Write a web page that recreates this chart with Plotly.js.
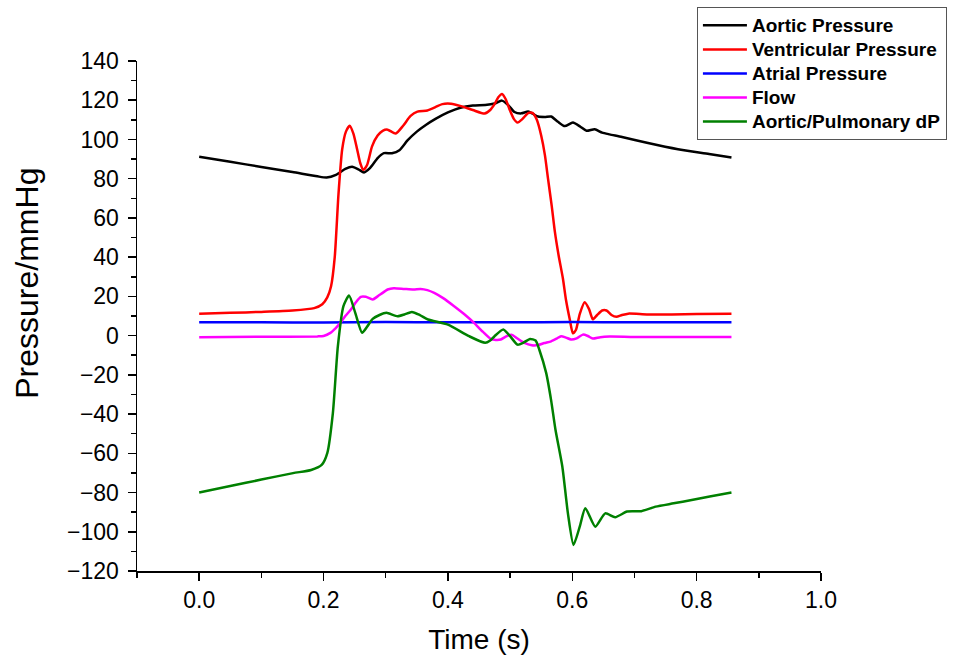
<!DOCTYPE html>
<html>
<head>
<meta charset="utf-8">
<script src="https://cdn.plot.ly/plotly-3.0.1.min.js"></script>
<style>html,body{margin:0;padding:0;background:#fff;}#chart{width:956px;height:666px;}</style>
</head>
<body>
<div id="chart"></div>
<script>
// ---- Data ----
const seriesNames = ["Aortic Pressure", "Ventricular Pressure", "Atrial Pressure", "Flow", "Aortic/Pulmonary dP"];

const tAortic = [0, 0.05, 0.10, 0.15, 0.19, 0.205, 0.22, 0.235, 0.246, 0.256, 0.265, 0.275, 0.287, 0.297, 0.31, 0.322, 0.335, 0.35, 0.365, 0.38, 0.40, 0.42, 0.44, 0.46, 0.475, 0.487, 0.497, 0.507, 0.518, 0.529, 0.537, 0.545, 0.556, 0.566, 0.577, 0.588, 0.601, 0.613, 0.623, 0.636, 0.648, 0.66, 0.68, 0.72, 0.77, 0.82, 0.856];
const pAortic = [91.2, 88.6, 86.0, 83.4, 81.2, 80.6, 82.0, 85.0, 86.1, 84.8, 83.2, 85.5, 90.5, 93.0, 93.0, 94.5, 99.5, 104, 107.5, 110.5, 113.8, 116.2, 117.3, 117.6, 118.3, 119.8, 117.5, 114, 113.3, 114.2, 113, 111.7, 111.5, 111.7, 109, 106.8, 108.6, 106.5, 104.4, 105.2, 103.5, 102.6, 101.3, 98.3, 95, 92.6, 90.8];

const tVentricular = [0, 0.05, 0.10, 0.15, 0.185, 0.198, 0.206, 0.212, 0.218, 0.224, 0.230, 0.236, 0.242, 0.248, 0.254, 0.259, 0.264, 0.270, 0.278, 0.287, 0.295, 0.303, 0.316, 0.328, 0.340, 0.351, 0.367, 0.38, 0.391, 0.405, 0.421, 0.44, 0.459, 0.468, 0.475, 0.481, 0.487, 0.493, 0.499, 0.506, 0.512, 0.52, 0.529, 0.536, 0.543, 0.55, 0.556, 0.561, 0.567, 0.572, 0.578, 0.585, 0.59, 0.596, 0.601, 0.606, 0.612, 0.62, 0.627, 0.633, 0.64, 0.648, 0.655, 0.663, 0.671, 0.68, 0.69, 0.72, 0.76, 0.80, 0.856];
const pVentricular = [11.1, 11.6, 12.1, 12.8, 14.0, 16.0, 19.5, 25, 40, 72, 95, 104, 107, 103, 95, 88, 84.5, 87, 96.5, 102, 104.4, 105, 103, 107, 112, 114.2, 114.8, 116.5, 118, 118.2, 117, 115, 113.2, 115, 118, 121.5, 123.2, 120.5, 115.4, 110.5, 108.6, 110.5, 113.4, 113.5, 110, 102, 92, 80, 66, 53, 41, 29, 18, 8.2, 1.2, 3, 11, 17, 13.5, 8.3, 10.5, 12.8, 12.8, 10.5, 9.6, 10.5, 11.2, 10.8, 10.8, 11, 11.1];

const tAtrial = [0, 0.1, 0.2, 0.3, 0.4, 0.5, 0.6, 0.7, 0.8, 0.856];
const pAtrial = [6.8, 6.8, 6.7, 6.9, 6.8, 6.8, 6.9, 6.8, 6.8, 6.8];

const tFlow = [0, 0.1, 0.19, 0.2, 0.211, 0.22, 0.227, 0.235, 0.244, 0.252, 0.26, 0.268, 0.279, 0.287, 0.295, 0.303, 0.313, 0.33, 0.345, 0.356, 0.367, 0.378, 0.393, 0.41, 0.426, 0.442, 0.456, 0.469, 0.477, 0.485, 0.493, 0.502, 0.512, 0.523, 0.535, 0.545, 0.555, 0.566, 0.575, 0.582, 0.59, 0.598, 0.607, 0.617, 0.625, 0.633, 0.645, 0.66, 0.7, 0.8, 0.856];
const pFlow = [-0.8, -0.6, -0.4, -0.2, 1.4, 4, 6.5, 10, 13.3, 17, 19.8, 19.8, 18.4, 20, 21.8, 23.5, 24.2, 23.8, 23.5, 23.8, 23.2, 21.8, 19, 15, 11, 6.5, 2, -1.7, -2.2, -2, -0.5, 0.5, -1.5, -3.7, -4.9, -4.8, -3.8, -2.9, -1.5, -0.3, -1, -2, -1.4, 0.5, -0.2, -1.5, -0.8, -0.5, -0.7, -0.7, -0.7];

const tDP = [0, 0.05, 0.10, 0.151, 0.18, 0.197, 0.206, 0.215, 0.223, 0.232, 0.241, 0.251, 0.262, 0.27, 0.279, 0.29, 0.301, 0.319, 0.33, 0.342, 0.355, 0.368, 0.4, 0.434, 0.46, 0.468, 0.475, 0.489, 0.5, 0.512, 0.522, 0.532, 0.541, 0.547, 0.558, 0.566, 0.573, 0.584, 0.593, 0.602, 0.612, 0.621, 0.637, 0.653, 0.669, 0.688, 0.711, 0.734, 0.763, 0.792, 0.821, 0.856];
const pDP = [-80, -76.7, -73.4, -70.1, -68.5, -65.9, -59.9, -39.5, -5.5, 15, 20.4, 11.6, 1.4, 4.5, 8.5, 10.5, 11.6, 9.9, 10.8, 12.1, 10.5, 8.2, 5.6, -0.3, -3.7, -2.5, -0.3, 3.1, -0.3, -4.6, -3.5, -1.7, -2.5, -7.2, -19, -33, -48, -66.7, -90.6, -106.7, -97.4, -88, -97.4, -90.6, -92.6, -89.7, -89.5, -87.2, -85.5, -83.8, -82, -80];

const colors = ["#000000", "#ff0000", "#0000ff", "#ff00ff", "#008000"];
const xs = [tAortic, tVentricular, tAtrial, tFlow, tDP];
const ys = [pAortic, pVentricular, pAtrial, pFlow, pDP];

const FONT = "Liberation Sans, Arial, sans-serif";

const traces = seriesNames.map((n, i) => ({
  x: xs[i], y: ys[i], name: '<span style="font-size:19px">' + n + '</span>',
  type: "scatter", mode: "lines",
  line: {color: colors[i], width: 2.5, shape: "spline", smoothing: 0.6}
}));

const axisCommon = {
  showline: true, linecolor: "#000", linewidth: 1.5,
  ticks: "outside", ticklen: 8, tickwidth: 1.5, tickcolor: "#000",
  showgrid: false, zeroline: false, mirror: false,
  tickfont: {family: FONT, size: 23, color: "#000"}
};

const layout = {
  width: 956, height: 666,
  margin: {l: 137, r: 135, t: 61, b: 95, autoexpand: false},
  paper_bgcolor: "#fff", plot_bgcolor: "#fff",
  font: {family: FONT, color: "#000"},
  xaxis: Object.assign({}, axisCommon, {
    range: [-0.1, 1.0], tick0: 0, dtick: 0.2, tickformat: ".1f",
    minor: {tick0: 0, dtick: 0.1, ticks: "outside", ticklen: 5, tickwidth: 1.5, tickcolor: "#000"},
    title: {text: "Time (s)", font: {family: FONT, size: 28, color: "#000"}, standoff: 17}
  }),
  yaxis: Object.assign({}, axisCommon, {
    range: [-120, 140], tick0: 0, dtick: 20, ticklabelstandoff: 4,
    minor: {tick0: 0, dtick: 10, ticks: "outside", ticklen: 5, tickwidth: 1.5, tickcolor: "#000"}
  }),
  annotations: [{
    text: "Pressure/mmHg", xref: "paper", yref: "paper", x: -0.161, y: 0.565,
    xanchor: "center", yanchor: "middle", textangle: -90, showarrow: false,
    font: {family: FONT, size: 32, color: "#000"}
  }],
  showlegend: true,
  legend: {
    xref: "container", yref: "container",
    x: 0.729, y: 0.989, xanchor: "left", yanchor: "top",
    bgcolor: "#fff", bordercolor: "#555", borderwidth: 1,
    font: {family: FONT, size: 16.2, color: "#000", weight: "bold"},
    tracegroupgap: 0, itemwidth: 44
  }
};

Plotly.newPlot("chart", traces, layout, {displayModeBar: false, staticPlot: true});
</script>
</body>
</html>
